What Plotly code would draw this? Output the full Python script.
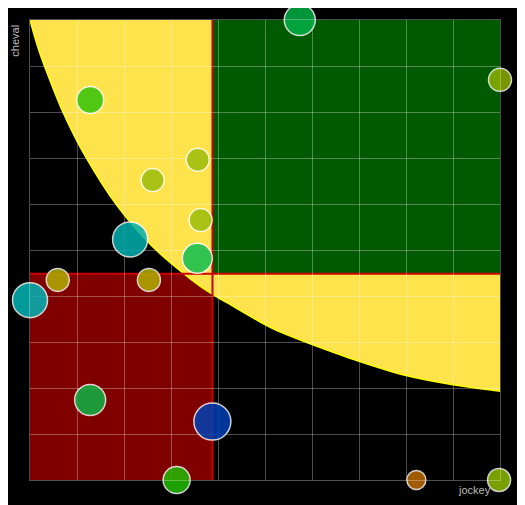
import plotly.graph_objects as go

# ---- data ----
jockey = [5.74, 10.0, 1.28, 3.57, 2.61, 3.63, 2.13, 3.56, 0.59, 2.53, 0.0, 1.28, 3.88, 3.12, 8.22, 9.98]
cheval = [10.0, 8.70, 8.26, 6.96, 6.52, 5.65, 5.23, 4.82, 4.35, 4.35, 3.91, 1.74, 1.27, 0.0, 0.0, 0.0]
weight = [31, 23, 27, 23, 23, 23, 35, 30, 23, 23, 35, 31, 37, 27, 19, 23]
colors = ["rgb(0,176,70)", "rgb(141,176,0)", "rgb(49,195,10)", "rgb(155,189,10)",
          "rgb(155,189,10)", "rgb(155,189,10)", "rgb(0,176,176)", "rgb(14,189,80)",
          "rgb(176,176,0)", "rgb(176,176,0)", "rgb(0,182,182)", "rgb(13,182,70)",
          "rgb(0,64,180)", "rgb(35,188,0)", "rgb(188,106,0)", "rgb(141,188,0)"]

# threshold boundary
curve_x = [0.0, 0.14, 0.29, 0.70, 1.17, 1.84, 2.6, 3.44, 3.88, 4.2, 4.89, 5.32, 5.99, 7.0, 8.0, 9.0, 10.0]
curve_y = [10.0, 9.5, 9.05, 8.0, 7.05, 5.98, 5.08, 4.35, 4.04, 3.85, 3.44, 3.22, 2.95, 2.58, 2.27, 2.07, 1.93]

x_min, x_max, y_min, y_max = 0, 10, 0, 10

mean_x = sum(jockey) / len(jockey)
mean_y = sum(cheval) / len(cheval)


def smooth_path(xs, ys):
    pts = list(zip(xs, ys))
    n = len(pts)
    d = f"M {pts[0][0]},{pts[0][1]}"
    for i in range(n - 1):
        p0 = pts[i - 1] if i > 0 else pts[i]
        p1 = pts[i]
        p2 = pts[i + 1]
        p3 = pts[i + 2] if i + 2 < n else pts[i + 1]
        c1 = (p1[0] + (p2[0] - p0[0]) / 6, p1[1] + (p2[1] - p0[1]) / 6)
        c2 = (p2[0] - (p3[0] - p1[0]) / 6, p2[1] - (p3[1] - p1[1]) / 6)
        d += f" C {c1[0]:.4f},{c1[1]:.4f} {c2[0]:.4f},{c2[1]:.4f} {p2[0]},{p2[1]}"
    return d


curve_d = smooth_path(curve_x, curve_y)
fill_d = curve_d + f" L {x_max},{y_max} L {x_min},{y_max} Z"

shapes = [
    dict(type="rect", xref="x", yref="y", x0=x_min, x1=mean_x, y0=y_min, y1=mean_y,
         fillcolor="#800000", line=dict(width=0), layer="below"),
    dict(type="path", xref="x", yref="y", path=fill_d, fillcolor="#ffe34d",
         line=dict(width=0), layer="below"),
    dict(type="path", xref="x", yref="y", path=curve_d, line=dict(color="#ffff00", width=1.5),
         layer="below"),
    dict(type="rect", xref="x", yref="y", x0=mean_x, x1=x_max, y0=mean_y, y1=y_max,
         fillcolor="#005a00", line=dict(width=0), layer="below"),
    dict(type="line", xref="x", yref="y", x0=mean_x, x1=mean_x, y0=y_min, y1=y_max,
         line=dict(color="#cc0000", width=2), layer="below"),
    dict(type="line", xref="x", yref="y", x0=x_min, x1=x_max, y0=mean_y, y1=mean_y,
         line=dict(color="#cc0000", width=2), layer="below"),
]

fig = go.Figure()
fig.add_trace(go.Scatter(
    x=jockey, y=cheval, mode="markers", cliponaxis=False, hoverinfo="x+y",
    marker=dict(size=weight, sizemode="diameter", color=colors, opacity=0.85,
                line=dict(color="rgba(255,255,255,0.95)", width=1.5)),
))

axis_common = dict(showticklabels=False, ticks="", zeroline=False, dtick=1,
                   gridcolor="rgba(255,255,255,0.3)", gridwidth=1,
                   showline=True, mirror=True, linecolor="rgba(255,255,255,0.3)", linewidth=1)

fig.update_layout(
    width=517, height=497,
    margin=dict(l=22, r=25, t=12, b=25),
    paper_bgcolor="black", plot_bgcolor="black",
    showlegend=False,
    shapes=shapes,
    xaxis=dict(range=[x_min, x_max], **axis_common),
    yaxis=dict(range=[y_min, y_max], **axis_common),
    font=dict(family="Liberation Sans, Arial, sans-serif", size=11, color="#bbbbbb"),
    annotations=[
        dict(text="cheval", xref="paper", yref="paper", x=-0.032, y=0.994, xanchor="center",
             yanchor="top", textangle=-90, showarrow=False, font=dict(size=11, color="#bbbbbb")),
        dict(text="jockey", xref="paper", yref="paper", x=0.986, y=-0.0217, xanchor="right",
             yanchor="middle", showarrow=False, font=dict(size=11, color="#bbbbbb")),
    ],
)

fig.write_html("out.html")
